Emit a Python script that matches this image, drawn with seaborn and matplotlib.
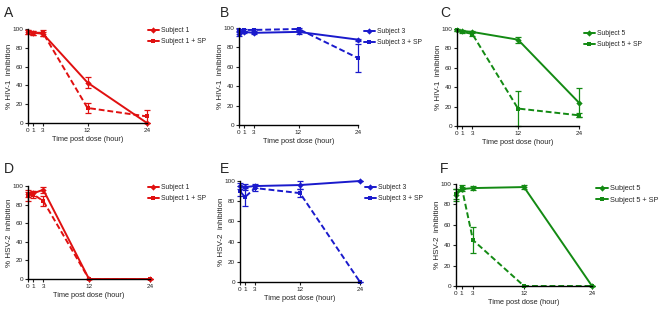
import matplotlib
matplotlib.use("Agg")
import matplotlib.pyplot as plt
import seaborn as sns
import pandas as pd

sns.set_style("ticks")
plt.rcParams['font.family'] = ['Liberation Sans', 'DejaVu Sans']

time = [0, 1, 3, 12, 24]
tick_x = [0, 1, 3, 12, 24]
tick_y = [0, 20, 40, 60, 80, 100]

# HIV-1 inhibition
s1_hiv = [97, 96, 95, 43, 0]
s1_hiv_err = [2, 2, 2, 6, 0]
s1sp_hiv = [97, 96, 96, 16, 7]
s1sp_hiv_err = [2, 2, 3, 5, 7]
s3_hiv = [94, 96, 95, 96, 88]
s3_hiv_err = [2, 1, 1, 2, 1]
s3sp_hiv = [98, 98, 98, 99, 69]
s3sp_hiv_err = [1, 1, 1, 1, 14]
s5_hiv = [99, 98, 97, 89, 24]
s5_hiv_err = [1, 1, 1, 3, 15]
s5sp_hiv = [99, 97, 95, 18, 11]
s5sp_hiv_err = [1, 1, 2, 18, 2]

# HSV-2 inhibition
s1_hsv = [91, 92, 96, 0, 0]
s1_hsv_err = [3, 3, 3, 0, 0]
s1sp_hsv = [90, 91, 84, 0, 0]
s1sp_hsv_err = [6, 4, 5, 0, 0]
s3_hsv = [95, 94, 95, 96, 100]
s3_hsv_err = [3, 3, 2, 4, 0]
s3sp_hsv = [90, 84, 93, 88, 0]
s3sp_hsv_err = [5, 9, 3, 4, 0]
s5_hsv = [89, 95, 96, 97, 0]
s5_hsv_err = [6, 2, 2, 2, 0]
s5sp_hsv = [90, 97, 45, 0, 0]
s5sp_hsv_err = [5, 2, 13, 0, 0]

red = '#e01010'
blue = '#1a1acc'
green = '#138a13'

W, H = 661, 311
fig = plt.figure(figsize=(W / 100, H / 100), dpi=100)


def box(l, r, t, b):
    return [l / W, 1 - b / H, (r - l) / W, (b - t) / H]


panels = [
    # letter, box (l, r, t, b), letter pos, legend pos, legend size, color, subject, ylabel, data
    ('A', (28, 147, 29, 123), (4, 6), (148, 27), 4.9, red, 'Subject 1', '% HIV-1  inhibition',
     s1_hiv, s1_hiv_err, s1sp_hiv, s1sp_hiv_err),
    ('B', (239, 358, 28, 125), (220, 6), (364, 28), 4.9, blue, 'Subject 3', '% HIV-1  inhibition',
     s3_hiv, s3_hiv_err, s3sp_hiv, s3sp_hiv_err),
    ('C', (457, 579, 29, 126), (440, 6), (584, 30), 4.9, green, 'Subject 5', '% HIV-1  inhibition',
     s5_hiv, s5_hiv_err, s5sp_hiv, s5sp_hiv_err),
    ('D', (28, 150, 186, 279), (4, 162), (148, 184), 4.9, red, 'Subject 1', '% HSV-2  inhibition',
     s1_hsv, s1_hsv_err, s1sp_hsv, s1sp_hsv_err),
    ('E', (240, 360, 181, 282), (220, 162), (365, 184), 4.9, blue, 'Subject 3', '% HSV-2  inhibition',
     s3_hsv, s3_hsv_err, s3sp_hsv, s3sp_hsv_err),
    ('F', (456, 592, 184, 286), (440, 162), (596, 185), 5.3, green, 'Subject 5', '% HSV-2  inhibition',
     s5_hsv, s5_hsv_err, s5sp_hsv, s5sp_hsv_err),
]

for letter, px, lpos, legpos, legsize, color, subj, ylab, ys, es, ysp, esp in panels:
    ax = fig.add_axes(box(*px))
    df = pd.DataFrame({
        'time': time + time,
        'value': ys + ysp,
        'series': [subj] * len(time) + [subj + ' + SP'] * len(time),
    })
    names = [subj, subj + ' + SP']
    sns.lineplot(data=df, x='time', y='value', hue='series', style='series',
                 hue_order=names, style_order=names,
                 palette=[color, color], dashes=[(None, None), (3, 1.5)],
                 markers=['D', 's'], markersize=3.2, markeredgewidth=0,
                 linewidth=1.4, ax=ax, clip_on=False)
    ax.errorbar(time, ys, yerr=es, fmt='none', ecolor=color, elinewidth=0.9,
                capsize=2, capthick=0.9, clip_on=False)
    ax.errorbar(time, ysp, yerr=esp, fmt='none', ecolor=color, elinewidth=0.9,
                capsize=2, capthick=0.9, clip_on=False)

    ax.set_xlim(0, 24)
    ax.set_ylim(0, 100)
    ax.set_xticks(tick_x)
    ax.set_yticks(tick_y)
    ax.tick_params(labelsize=4.6, length=2.5, width=0.8, pad=1, colors='#222222')
    sns.despine(ax=ax)
    for s in ('left', 'bottom'):
        ax.spines[s].set_linewidth(1.0)
        ax.spines[s].set_color('black')
    ax.set_xlabel('Time post dose (hour)', fontsize=5.3, labelpad=2.5)
    ax.set_ylabel(ylab, fontsize=5.8)
    # right edge of the rotated y label about 15 px left of the spine
    ax.yaxis.set_label_coords(-15 / (px[1] - px[0]), 0.5)

    fig.text(lpos[0] / W, 1 - lpos[1] / H, letter, fontsize=10, va='top', ha='left')

    handles, labels = ax.get_legend_handles_labels()
    leg = ax.legend(handles, labels, loc='upper left',
                    bbox_to_anchor=(legpos[0] / W, 1 - legpos[1] / H),
                    bbox_transform=fig.transFigure, frameon=False,
                    fontsize=legsize, handlelength=1.6, handletextpad=0.3,
                    borderpad=0, borderaxespad=0, labelspacing=0.6)
    for h in leg.get_lines():
        h.set_linestyle('-')

fig.savefig('out.png', dpi=100)
